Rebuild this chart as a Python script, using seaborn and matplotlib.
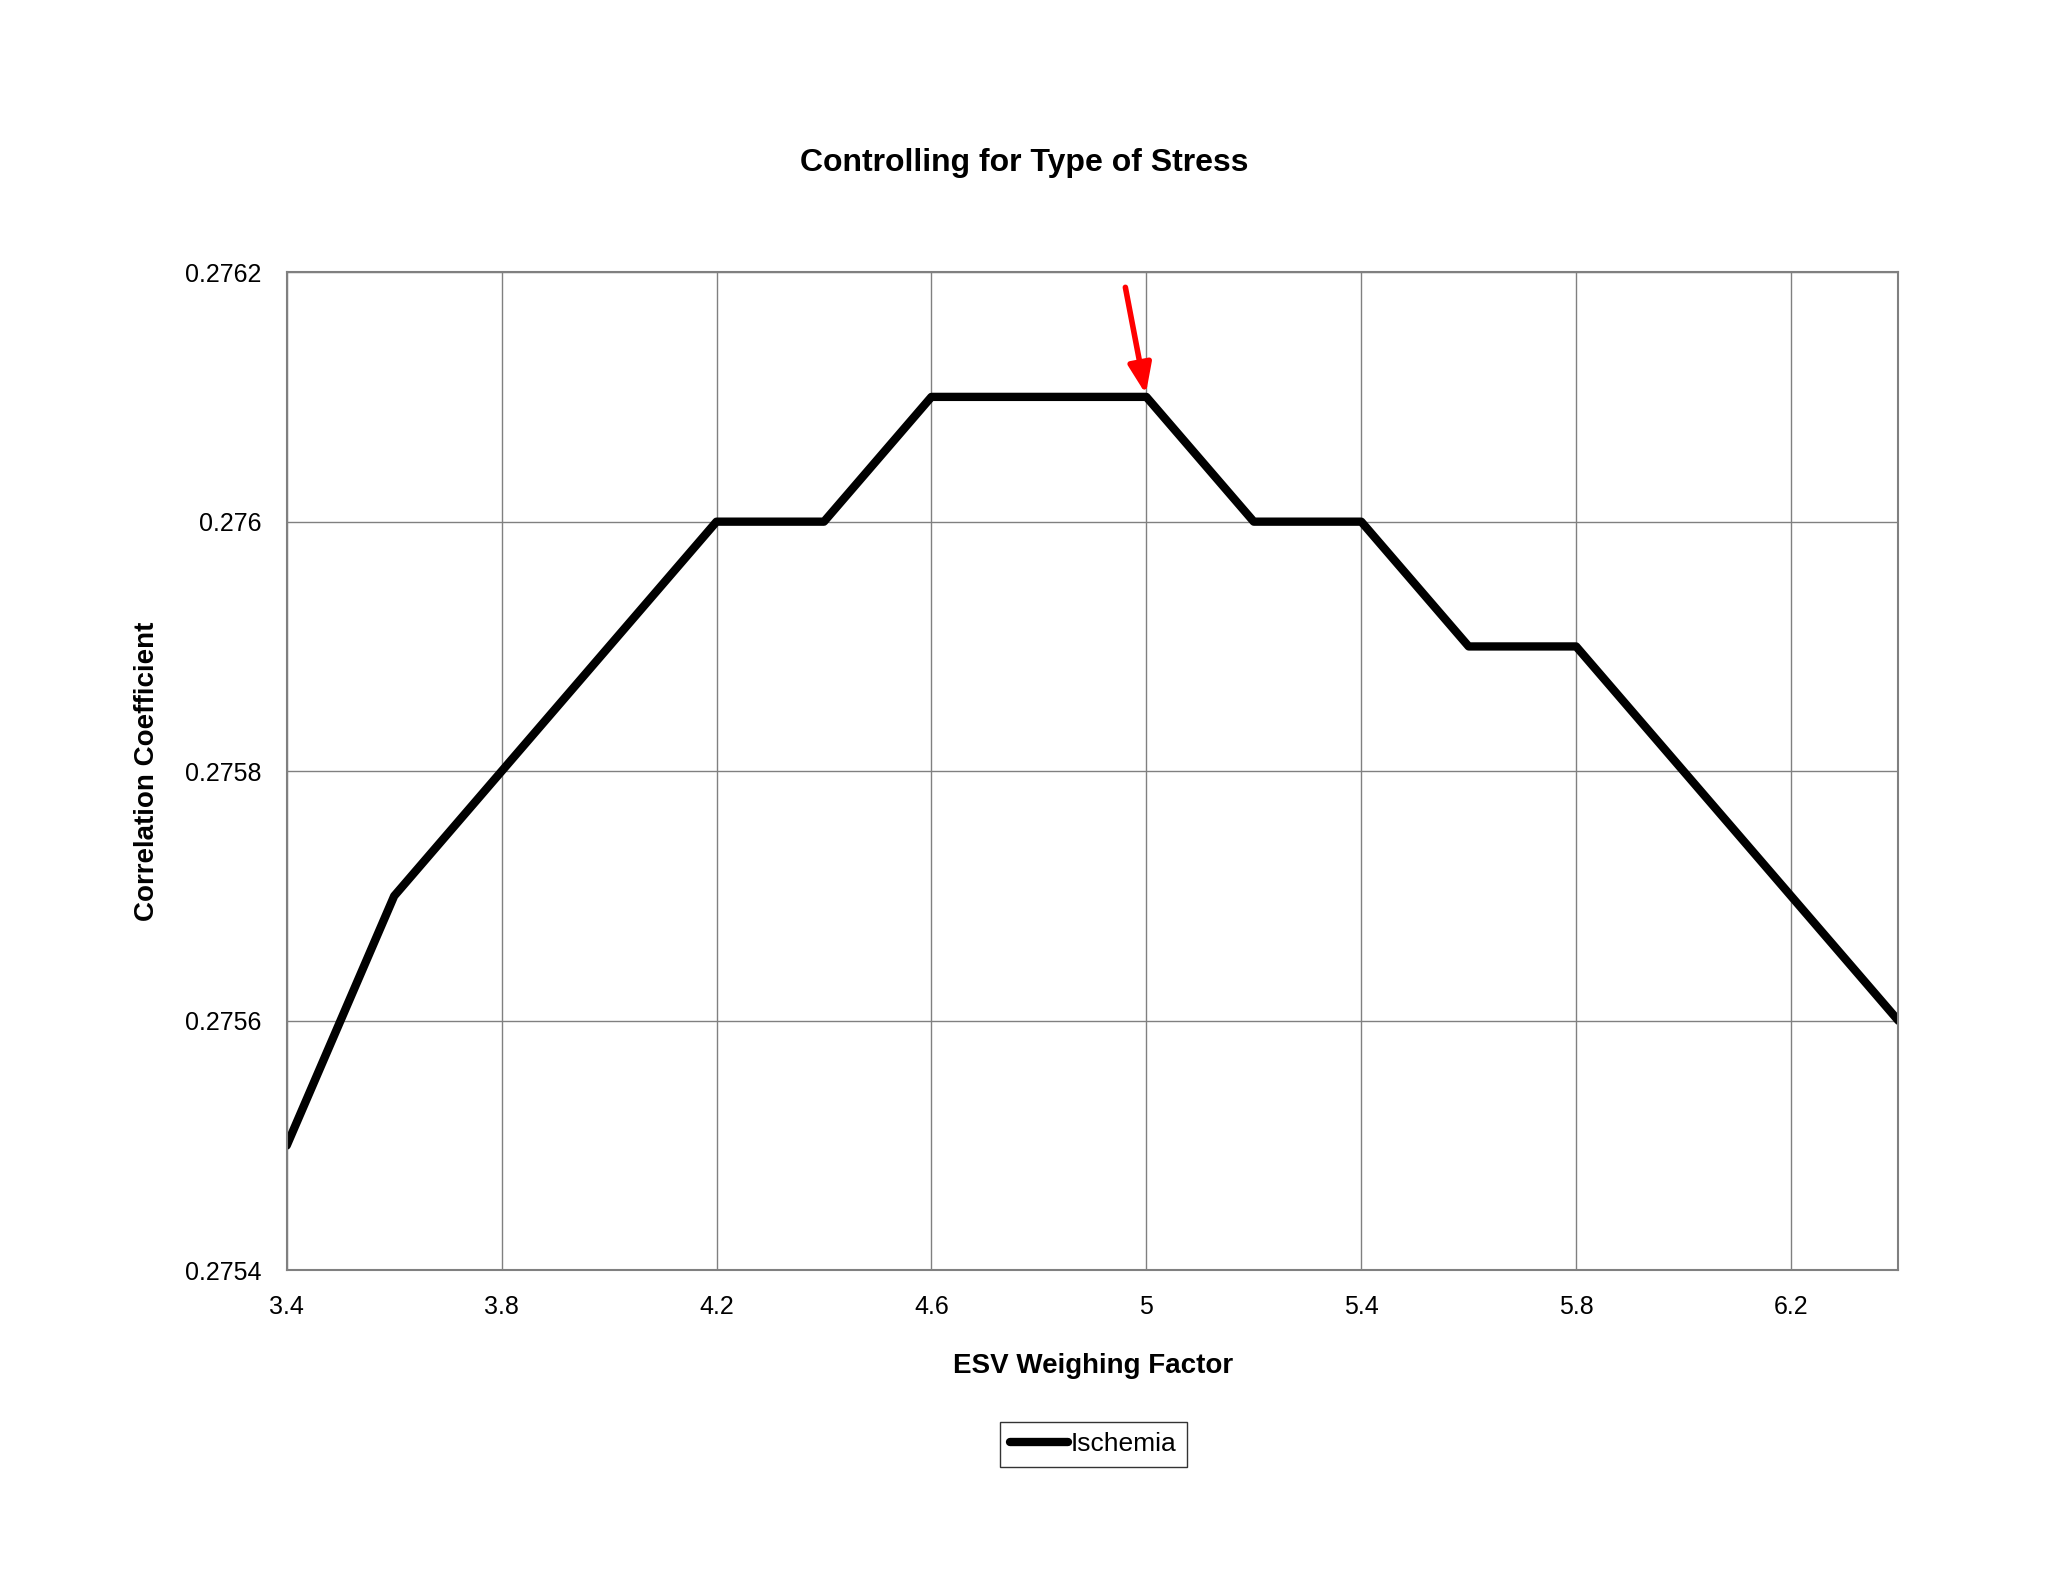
import matplotlib
matplotlib.use("Agg")
import matplotlib.pyplot as plt
import seaborn as sns
import pandas as pd

x_vals = [3.4, 3.6, 3.8, 4.0, 4.2, 4.4, 4.6, 4.8, 5.0, 5.2, 5.4, 5.6, 5.8, 6.0, 6.2, 6.4]
ischemia = [0.2755, 0.2757, 0.2758, 0.2759, 0.2760, 0.2760, 0.2761, 0.2761, 0.2761,
            0.2760, 0.2760, 0.2759, 0.2759, 0.2758, 0.2757, 0.2756]
xticks = [3.4, 3.8, 4.2, 4.6, 5.0, 5.4, 5.8, 6.2]
xtick_labels = ["3.4", "3.8", "4.2", "4.6", "5", "5.4", "5.8", "6.2"]
yticks = [0.2754, 0.2756, 0.2758, 0.2760, 0.2762]
ytick_labels = ["0.2754", "0.2756", "0.2758", "0.276", "0.2762"]

sns.set_style("white")
plt.rcParams['font.family'] = ['Liberation Sans', 'DejaVu Sans']
plt.rcParams['text.color'] = 'black'
plt.rcParams['axes.labelcolor'] = 'black'
plt.rcParams['xtick.color'] = 'black'
plt.rcParams['ytick.color'] = 'black'

df = pd.DataFrame({"x": x_vals, "y": ischemia})
fig = plt.figure(figsize=(20.48, 15.82), dpi=100)
ax = fig.add_axes([0.140, 0.197, 0.787, 0.631])
sns.lineplot(data=df, x="x", y="y", ax=ax, color="black", linewidth=6, label="Ischemia")
ax.set_xlim(3.4, 6.4)
ax.set_ylim(0.2754, 0.2762)
ax.set_xticks(xticks)
ax.set_xticklabels(xtick_labels, fontsize=18)
ax.set_yticks(yticks)
ax.set_yticklabels(ytick_labels, fontsize=18)
ax.grid(True, color="#808080", linewidth=1)
for s in ax.spines.values():
    s.set_color("#808080")
    s.set_linewidth(1.5)
ax.tick_params(axis="both", direction="out", length=6, color="#808080", pad=12)
ax.set_xlabel("ESV Weighing Factor", fontsize=20, fontweight="bold", labelpad=24)
ax.set_ylabel("Correlation Coefficient", fontsize=20, fontweight="bold", labelpad=18)
fig.text(0.5, 0.897, "Controlling for Type of Stress", ha="center", va="center",
         fontsize=23, fontweight="bold")
ax.annotate("", xy=(5.0, 0.2761), xytext=(4.96, 0.27619),
            arrowprops=dict(arrowstyle="-|>,head_width=0.7,head_length=1.8",
                            color="red", lw=4))
leg = ax.legend(loc="center", bbox_to_anchor=(0.534, 0.087), bbox_transform=fig.transFigure,
                fontsize=19, frameon=True, fancybox=False, handlelength=2.2,
                handletextpad=0.1, borderpad=0.4)
leg.get_frame().set_edgecolor("black")
leg.get_frame().set_linewidth(1)
fig.savefig("out.png", dpi=100, facecolor="white")
